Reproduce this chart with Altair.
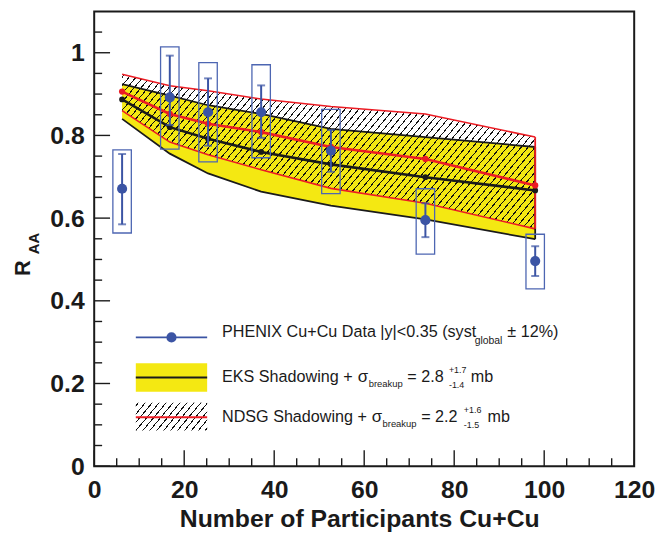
import math
import altair as alt
import pandas as pd

# ---------------- data ----------------
npart = [6.2, 16.8, 25.3, 37.1, 52.6, 73.6, 98.0]
raa = [0.671, 0.892, 0.856, 0.856, 0.763, 0.595, 0.496]
stat_lo = [0.585, 0.825, 0.775, 0.794, 0.712, 0.554, 0.460]
stat_hi = [0.755, 0.993, 0.938, 0.921, 0.813, 0.636, 0.532]
syst_lo = [0.564, 0.767, 0.736, 0.746, 0.659, 0.513, 0.429]
syst_hi = [0.765, 1.014, 0.976, 0.971, 0.863, 0.671, 0.561]

npart_th = [6.2, 16.8, 25.3, 37.1, 52.6, 73.6, 98.0]
eks_central = [0.887, 0.820, 0.792, 0.760, 0.730, 0.699, 0.667]
eks_upper = [0.924, 0.896, 0.873, 0.852, 0.816, 0.796, 0.772]
eks_lower = [0.840, 0.756, 0.708, 0.664, 0.630, 0.597, 0.549]
ndsg_central = [0.906, 0.852, 0.828, 0.808, 0.772, 0.743, 0.679]
ndsg_upper = [0.948, 0.920, 0.908, 0.888, 0.870, 0.852, 0.796]
ndsg_lower = [0.860, 0.784, 0.753, 0.717, 0.672, 0.636, 0.574]

x_major = [0, 20, 40, 60, 80, 100, 120]
x_minor = [5, 10, 15, 25, 30, 35, 45, 50, 55, 65, 70, 75, 85, 90, 95, 105, 110, 115]
y_major = [0, 0.2, 0.4, 0.6, 0.8, 1.0]
y_minor = [0.05, 0.1, 0.15, 0.25, 0.3, 0.35, 0.45, 0.5, 0.55, 0.65, 0.7, 0.75,
           0.85, 0.9, 0.95, 1.05]

# ---------------- layout / style ----------------
W, H = 545, 459
X_MAX, Y_MAX = 120, 1.1
FONT = "Liberation Sans"
BLUE = "#3b54a4"
BOX_BLUE = "#4d66b2"
RED = "#ec1c24"
YELLOW = "#f4e812"
BLACK = "#1a1a1a"

xs = alt.Scale(domain=[0, X_MAX], nice=False, zero=False)
ys = alt.Scale(domain=[0, Y_MAX], nice=False, zero=False)

x_axis = alt.Axis(values=x_major, ticks=False, domain=False, grid=False, title=None,
                  labelFont=FONT, labelFontSize=25, labelFontWeight="bold",
                  labelColor=BLACK, labelPadding=12, labelFlush=False)
y_axis = alt.Axis(values=y_major, ticks=False, domain=False, grid=False, title=None,
                  labelFont=FONT, labelFontSize=25, labelFontWeight="bold",
                  labelColor=BLACK, labelPadding=10, format="~g")


def X(f):
    return alt.X(f, type="quantitative", scale=xs, axis=x_axis)


def Y(f):
    return alt.Y(f, type="quantitative", scale=ys, axis=y_axis)


theory = pd.DataFrame({
    "x": npart_th,
    "eks_c": eks_central, "eks_u": eks_upper, "eks_l": eks_lower,
    "ndsg_c": ndsg_central, "ndsg_u": ndsg_upper, "ndsg_l": ndsg_lower,
})
edge = theory.iloc[[-1]]
pts = pd.DataFrame({
    "npart": npart, "raa": raa, "stat_lo": stat_lo, "stat_hi": stat_hi,
    "syst_lo": syst_lo, "syst_hi": syst_hi,
})
one = pd.DataFrame({"d": [0]})


def hatch(w, h, angle=50.0, spacing=7.0, lw=0.95, color="#111111"):
    """diagonal '/' hatching as a linear gradient over the mark's bounding box"""
    th = math.radians(angle)
    a = math.sin(th) * w
    b = math.cos(th) * h
    s = (a + b) / (a * a + b * b)
    length = a + b
    perp = spacing * math.sin(th)
    clear = "rgba(0,0,0,0)"
    stops = [{"offset": 0, "color": clear}]
    k = 0
    while True:
        t0 = (k * perp + 1.5) / length
        t1 = (k * perp + 1.5 + lw) / length
        if t1 >= 1:
            break
        stops += [{"offset": round(t0, 5), "color": clear},
                  {"offset": round(t0, 5), "color": color},
                  {"offset": round(t1, 5), "color": color},
                  {"offset": round(t1, 5), "color": clear}]
        k += 1
    stops.append({"offset": 1, "color": clear})
    return {"gradient": "linear", "x1": 0, "y1": 0, "x2": s * a, "y2": s * b,
            "stops": stops}


base_t = alt.Chart(theory)

# EKS band (yellow)
eks_band = base_t.mark_area(color=YELLOW, opacity=1).encode(
    x=X("x"), y=Y("eks_l"), y2="eks_u:Q")
eks_up = base_t.mark_line(color=BLACK, strokeWidth=1.8).encode(x=X("x"), y=Y("eks_u"))
eks_lo = base_t.mark_line(color=BLACK, strokeWidth=1.8).encode(x=X("x"), y=Y("eks_l"))

# NDSG band (hatched)
bw = (max(npart_th) - min(npart_th)) * W / X_MAX
bh = (max(ndsg_upper) - min(ndsg_lower)) * H / Y_MAX
ndsg_band = base_t.mark_area(fill=hatch(bw, bh), opacity=1).encode(
    x=X("x"), y=Y("ndsg_l"), y2="ndsg_u:Q")
ndsg_up = base_t.mark_line(color=RED, strokeWidth=1.6).encode(x=X("x"), y=Y("ndsg_u"))
ndsg_lo = base_t.mark_line(color=RED, strokeWidth=1.6).encode(x=X("x"), y=Y("ndsg_l"))

# right closing edges
eks_edge = alt.Chart(edge).mark_rule(color=BLACK, strokeWidth=1.8).encode(
    x=X("x"), y=Y("eks_l"), y2="eks_u:Q")
ndsg_edge = alt.Chart(edge).mark_rule(color=RED, strokeWidth=1.8).encode(
    x=X("x"), y=Y("ndsg_l"), y2="ndsg_u:Q")

# central curves
eks_mid = base_t.mark_line(color=BLACK, strokeWidth=2.6, point=alt.OverlayMarkDef(
    filled=True, size=34, color=BLACK)).encode(x=X("x"), y=Y("eks_c"))
ndsg_mid = base_t.mark_line(color=RED, strokeWidth=2.6, point=alt.OverlayMarkDef(
    filled=True, size=40, color=RED)).encode(x=X("x"), y=Y("ndsg_c"))

# PHENIX data
base_p = alt.Chart(pts).transform_calculate(
    xl="datum.npart - 2.05", xr="datum.npart + 2.05")
boxes = base_p.mark_rect(fill=None, fillOpacity=0, stroke=BOX_BLUE, strokeWidth=1.3).encode(
    x=X("xl"), x2="xr:Q", y=Y("syst_lo"), y2="syst_hi:Q")
bars = base_p.mark_rule(color=BLUE, strokeWidth=2).encode(
    x=X("npart"), y=Y("stat_lo"), y2="stat_hi:Q")
cap_hi = base_p.mark_tick(color=BLUE, orient="horizontal", size=8, thickness=2).encode(
    x=X("npart"), y=Y("stat_hi"))
cap_lo = base_p.mark_tick(color=BLUE, orient="horizontal", size=8, thickness=2).encode(
    x=X("npart"), y=Y("stat_lo"))
dots = base_p.mark_circle(color=BLUE, size=105, opacity=1).encode(
    x=X("npart"), y=Y("raa"))


# inside ticks (ROOT style)
def yticks(vals, length):
    return alt.Chart(pd.DataFrame({"v": vals})).mark_rule(color=BLACK, strokeWidth=1.4).encode(
        y=Y("v"), x=alt.value(0), x2=alt.value(length))


def xticks(vals, length):
    return alt.Chart(pd.DataFrame({"v": vals})).mark_rule(color=BLACK, strokeWidth=1.4).encode(
        x=X("v"), y=alt.value(H), y2=alt.value(H - length))


ticks = [yticks(y_major, 16), yticks(y_minor, 8), xticks(x_major, 16), xticks(x_minor, 8)]


def txt(s, x, y, size=16, weight="normal", angle=0, align="left"):
    return alt.Chart(one).mark_text(
        text=s, font=FONT, fontSize=size, fontWeight=weight, color=BLACK,
        align=align, baseline="alphabetic", angle=angle).encode(
        x=alt.value(x), y=alt.value(y))


# legend
leg = []
leg.append(alt.Chart(one).mark_rule(color=BLUE, strokeWidth=2).encode(
    x=alt.value(42), x2=alt.value(114), y=alt.value(329)))
leg.append(alt.Chart(one).mark_circle(color=BLUE, size=105, opacity=1).encode(
    x=alt.value(78), y=alt.value(329)))
leg.append(alt.Chart(one).mark_rect(color=YELLOW).encode(
    x=alt.value(42), x2=alt.value(114), y=alt.value(355), y2=alt.value(384)))
leg.append(alt.Chart(one).mark_rule(color=BLACK, strokeWidth=2).encode(
    x=alt.value(42), x2=alt.value(114), y=alt.value(369.5)))
leg.append(alt.Chart(one).mark_rect(fill=hatch(72, 28)).encode(
    x=alt.value(42), x2=alt.value(114), y=alt.value(395), y2=alt.value(423)))
leg.append(alt.Chart(one).mark_rule(color=RED, strokeWidth=2).encode(
    x=alt.value(42), x2=alt.value(114), y=alt.value(409.5)))

leg += [
    txt("PHENIX Cu+Cu Data |y|<0.35 (syst", 129, 329, size=16.3),
    txt("global", 384, 336, size=10.5),
    txt("\u00b1 12%)", 417, 329, size=16.3),
    txt("EKS Shadowing +", 129, 374, size=16.3),
    txt("\u03c3", 266, 374, size=17),
    txt("breakup", 277, 379, size=9.5),
    txt("= 2.8", 316, 374, size=16.3),
    txt("+1.7", 358, 365, size=9),
    txt("-1.4", 358, 380, size=9),
    txt("mb", 380, 374, size=16.3),
    txt("NDSG Shadowing +", 129, 414, size=16.3),
    txt("\u03c3", 280, 414, size=17),
    txt("breakup", 291, 419, size=9.5),
    txt("= 2.2", 330, 414, size=16.3),
    txt("+1.6", 373, 405, size=9),
    txt("-1.5", 373, 420, size=9),
    txt("mb", 397, 414, size=16.3),
]

# axis titles
titles = [
    txt("R", -65, 267, size=22, weight="bold", angle=270),
    txt("AA", -56, 245, size=15, weight="bold", angle=270),
    txt("Number of Participants Cu+Cu", 268, 520, size=25, weight="bold", align="center"),
]

chart = alt.layer(
    eks_band, eks_up, eks_lo, ndsg_band, ndsg_up, ndsg_lo, eks_edge, ndsg_edge,
    eks_mid, ndsg_mid, boxes, bars, cap_hi, cap_lo, dots, *ticks, *leg, *titles,
).properties(
    width=W, height=H,
    autosize=alt.AutoSizeParams(type="none"),
    padding={"left": 87, "top": 1, "right": 21, "bottom": 64},
).configure(
    background="white",
    view=alt.ViewConfig(stroke=BLACK, strokeWidth=2),
)

chart.save("out.html", embed_options={"renderer": "svg", "actions": False})
